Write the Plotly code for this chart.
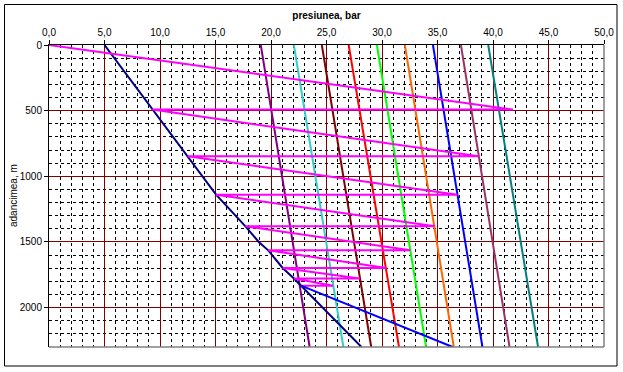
import plotly.graph_objects as go

# ---- data ----
depth_ends = [0, 2300]
casing_colors = ["#800080", "#33CCCC", "#800000", "#FF0000", "#00FF00",
                 "#FF6600", "#0000FF", "#993366", "#008080"]
casing_top = [19.08, 22.06, 24.58, 27.0, 29.54, 32.06, 34.59, 37.11, 39.57]
casing_bottom = [23.48, 26.52, 29.03, 31.53, 33.97, 36.47, 39.05, 41.49, 44.06]

tubing_p = [5.0, 8.0, 9.3, 12.5, 13.8, 15.05, 17.7, 18.9, 19.75, 21.05, 22.07, 22.7, 28.15]
tubing_d = [0, 340, 492, 848, 1000, 1140, 1381, 1500, 1564, 1698, 1779, 1833, 2300]

zig_p = [0, 41.8, 9.3, 38.7, 12.5, 36.8, 15.05, 34.75, 17.7, 32.55, 19.75,
         30.4, 21.05, 28.0, 22.07, 25.6, 22.7]
zig_d = [0, 492, 492, 848, 848, 1140, 1140, 1381, 1381, 1564, 1564,
         1698, 1698, 1779, 1779, 1833, 1833]

below_p = [22.7, 36.37]
below_d = [1833, 2300]

x_ticks = [0, 5, 10, 15, 20, 25, 30, 35, 40, 45, 50]
x_ticktext = ["0,0", "5,0", "10,0", "15,0", "20,0", "25,0", "30,0", "35,0", "40,0", "45,0", "50,0"]
y_ticks = [0, 500, 1000, 1500, 2000]
y_ticktext = ["0", "500", "1000", "1500", "2000"]

# ---- figure ----
W, H = 623, 372
L, R, T, B = 49, 19, 45, 25
pw, ph = W - L - R, H - T - B

def px_x(p):
    return (p - L) / pw

def px_y(p):
    return 1 - (p - T) / ph

fig = go.Figure()
for c, a, b in zip(casing_colors, casing_top, casing_bottom):
    fig.add_trace(go.Scatter(x=[a, b], y=depth_ends, mode="lines",
                             line=dict(color=c, width=2), showlegend=False))
fig.add_trace(go.Scatter(x=tubing_p, y=tubing_d, mode="lines",
                         line=dict(color="#000080", width=2), showlegend=False))
fig.add_trace(go.Scatter(x=zig_p, y=zig_d, mode="lines",
                         line=dict(color="#FF00FF", width=2), showlegend=False))
fig.add_trace(go.Scatter(x=below_p, y=below_d, mode="lines",
                         line=dict(color="#0000FF", width=2), showlegend=False))

font = dict(family="Liberation Sans, Arial, sans-serif", size=10, color="black")

fig.update_layout(
    width=W, height=H, margin=dict(l=L, r=R, t=T, b=B, autoexpand=False),
    paper_bgcolor="white", plot_bgcolor="white",
    font=font, showlegend=False,
    xaxis=dict(side="top", range=[0, 50], tickvals=x_ticks, ticktext=x_ticktext,
               ticks="outside", ticklen=4, tickcolor="black", showline=True,
               linecolor="black", linewidth=1, showgrid=True, gridcolor="#800000",
               gridwidth=1, zeroline=False, tickfont=font, automargin=False,
               minor=dict(dtick=1, showgrid=True, gridcolor="black",
                          griddash="3px,3px", gridwidth=1)),
    yaxis=dict(range=[2300, 0], tickvals=y_ticks, ticktext=y_ticktext,
               ticks="outside", ticklen=4, tickcolor="black", showline=True,
               linecolor="black", linewidth=1, showgrid=True, gridcolor="#800000",
               gridwidth=1, zeroline=False, tickfont=font, automargin=False,
               minor=dict(dtick=100, showgrid=True, gridcolor="black",
                          griddash="3px,3px", gridwidth=1)),
    title=dict(text="<b>presiunea, bar</b>", x=0.5, xref="paper",
               y=1 - 15 / H, yanchor="middle", font=dict(family=font["family"], size=10, color="black")),
)

fig.add_annotation(text="adancimea, m", xref="paper", yref="paper",
                   x=px_x(13), y=0.5, textangle=-90, showarrow=False,
                   font=font, xanchor="center", yanchor="middle")

# right and bottom plot edges (gray)
fig.add_shape(type="line", xref="paper", yref="paper", x0=1, x1=1, y0=0, y1=1,
              line=dict(color="#808080", width=1.5), layer="above")
fig.add_shape(type="line", xref="paper", yref="paper", x0=0, x1=1, y0=0, y1=0,
              line=dict(color="#808080", width=1.5), layer="above")
# outer chart frame
fig.add_shape(type="rect", xref="paper", yref="paper",
              x0=px_x(4.5), x1=px_x(617), y0=px_y(366), y1=px_y(4.5),
              line=dict(color="black", width=1), layer="above")

fig.write_html("out.html", config={"displayModeBar": False},
               post_script="document.body.style.margin='0px';")
